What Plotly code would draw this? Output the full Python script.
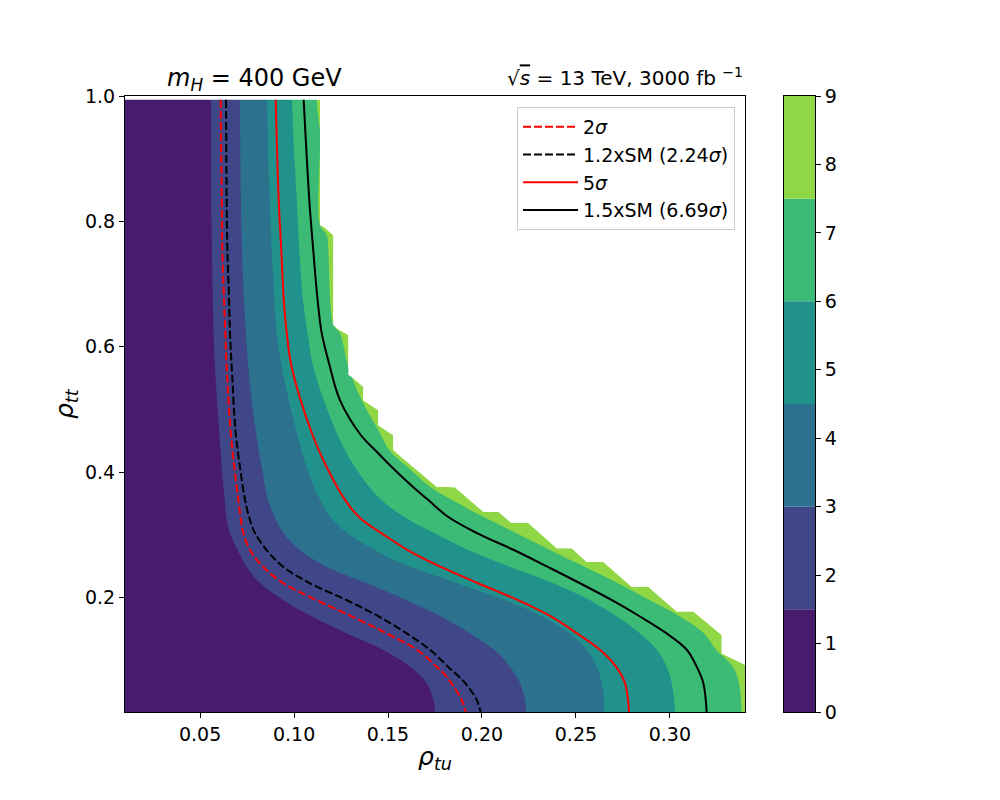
import plotly.graph_objects as go

# ---------------- data ----------------
X_RANGE = [0.01, 0.34]
Y_RANGE = [0.0177, 1.0]
Y_DATA_TOP = 0.994

X_TICKS = [0.05, 0.10, 0.15, 0.20, 0.25, 0.30]
X_TICK_LABELS = ["0.05", "0.10", "0.15", "0.20", "0.25", "0.30"]
Y_TICKS = [0.2, 0.4, 0.6, 0.8, 1.0]
Y_TICK_LABELS = ["0.2", "0.4", "0.6", "0.8", "1.0"]

LEVELS = [0, 1.5, 3, 4.5, 6, 7.5, 9]
BAND_COLORS = ["#481b6d", "#3f4788", "#2c718e", "#21918c", "#3bbb75", "#8fd744"]
CB_TICKS = [0, 1, 2, 3, 4, 5, 6, 7, 8, 9]

# outer edge of the computed region (beyond it: no data)
EDGE_X = [0.1138, 0.1138, 0.1159, 0.1209, 0.1209, 0.1235, 0.1289, 0.1289, 0.1307, 0.1368,
          0.1368, 0.1448, 0.1448, 0.1528, 0.1528, 0.1599, 0.1759, 0.1856, 0.2007, 0.2087,
          0.2158, 0.2247, 0.2398, 0.2478, 0.2557, 0.2646, 0.2797, 0.2885, 0.3036, 0.3125,
          0.3276, 0.3276, 0.3400, 0.3400]
EDGE_Y = [0.994, 0.794, 0.791, 0.778, 0.635, 0.628, 0.619, 0.555, 0.552, 0.5365,
          0.515, 0.499, 0.475, 0.459, 0.4355, 0.417, 0.377, 0.376, 0.337, 0.337,
          0.319, 0.319, 0.279, 0.279, 0.257, 0.257, 0.2175, 0.2175, 0.178, 0.178,
          0.1405, 0.111, 0.093, 0.0177]

L75_X = [0.1120, 0.1138, 0.1138, 0.1174, 0.1182, 0.1195, 0.1209, 0.1244, 0.1289, 0.1360,
         0.1457, 0.1505, 0.1601, 0.1723, 0.1840, 0.1968, 0.2128, 0.2362, 0.2548, 0.2724,
         0.2894, 0.3054, 0.3182, 0.3246, 0.3336, 0.3368, 0.3382]
L75_Y = [0.994, 0.941, 0.794, 0.778, 0.754, 0.662, 0.635, 0.622, 0.568, 0.515,
         0.463, 0.436, 0.409, 0.377, 0.356, 0.335, 0.311, 0.276, 0.249, 0.223,
         0.196, 0.170, 0.143, 0.117, 0.090, 0.064, 0.0177]

L6_X = [0.0989, 0.1014, 0.1028, 0.1047, 0.1072, 0.1102, 0.1227, 0.1324, 0.1447, 0.1585,
        0.1745, 0.1926, 0.2149, 0.2380, 0.2575, 0.2717, 0.2841, 0.2930, 0.2983, 0.3010, 0.3027]
L6_Y = [0.994, 0.834, 0.754, 0.675, 0.622, 0.568, 0.463, 0.408, 0.361, 0.329,
        0.303, 0.276, 0.249, 0.223, 0.196, 0.170, 0.143, 0.117, 0.090, 0.064, 0.0177]

L45_X = [0.0856, 0.0870, 0.0881, 0.0895, 0.0907, 0.0934, 0.1014, 0.1067, 0.1138, 0.1207,
         0.1298, 0.1431, 0.1553, 0.1686, 0.1867, 0.2123, 0.2319, 0.2469, 0.2557, 0.2611,
         0.2637, 0.2650, 0.2650]
L45_Y = [0.994, 0.834, 0.754, 0.675, 0.622, 0.568, 0.463, 0.408, 0.356, 0.324,
         0.300, 0.276, 0.257, 0.242, 0.223, 0.196, 0.170, 0.143, 0.117, 0.090,
         0.064, 0.037, 0.0177]

L3_X = [0.0712, 0.0717, 0.0723, 0.0733, 0.0744, 0.0756, 0.0797, 0.0828, 0.0861, 0.0904,
        0.0943, 0.1031, 0.1174, 0.1386, 0.1599, 0.1787, 0.1936, 0.2064, 0.2149, 0.2202,
        0.2229, 0.2234]
L3_Y = [0.994, 0.834, 0.754, 0.675, 0.622, 0.568, 0.463, 0.408, 0.356, 0.324,
        0.303, 0.276, 0.249, 0.223, 0.196, 0.169, 0.143, 0.117, 0.090, 0.064,
        0.037, 0.0177]

L15_X = [0.0558, 0.0559, 0.0563, 0.0568, 0.0579, 0.0602, 0.0615, 0.0630, 0.0642, 0.0659,
         0.0748, 0.0819, 0.0943, 0.1101, 0.1280, 0.1473, 0.1617, 0.1706, 0.1741, 0.1750]
L15_Y = [0.994, 0.834, 0.754, 0.662, 0.568, 0.463, 0.408, 0.356, 0.324, 0.303,
         0.249, 0.223, 0.196, 0.169, 0.143, 0.117, 0.090, 0.064, 0.037, 0.0177]

SIG2_X = [0.0609, 0.0615, 0.0618, 0.0627, 0.0634, 0.0641, 0.0663, 0.0682, 0.0703, 0.0717,
          0.0730, 0.0765, 0.0836, 0.0943, 0.1120, 0.1315, 0.1493, 0.1653, 0.1759, 0.1812,
          0.1892, 0.1913]
SIG2_Y = [0.994, 0.834, 0.754, 0.675, 0.622, 0.568, 0.463, 0.408, 0.356, 0.324,
          0.303, 0.276, 0.249, 0.223, 0.196, 0.169, 0.143, 0.117, 0.090, 0.074,
          0.037, 0.0177]

SM12_X = [0.0638, 0.0641, 0.0645, 0.0654, 0.0659, 0.0668, 0.0689, 0.0712, 0.0739, 0.0765,
          0.0792, 0.0854, 0.0943, 0.1085, 0.1280, 0.1457, 0.1599, 0.1723, 0.1819, 0.1910,
          0.1972, 0.1993]
SM12_Y = [0.994, 0.834, 0.754, 0.675, 0.622, 0.568, 0.463, 0.408, 0.356, 0.324,
          0.303, 0.276, 0.249, 0.223, 0.196, 0.169, 0.143, 0.117, 0.090, 0.064,
          0.037, 0.0177]

SIG5_X = [0.0902, 0.0918, 0.0932, 0.0945, 0.0961, 0.0987, 0.1094, 0.1174, 0.1271, 0.1351,
          0.1479, 0.1633, 0.1782, 0.1979, 0.2192, 0.2367, 0.2506, 0.2628, 0.2713, 0.2761, 0.2783]
SIG5_Y = [0.994, 0.834, 0.754, 0.675, 0.622, 0.568, 0.463, 0.408, 0.356, 0.327,
          0.300, 0.271, 0.249, 0.223, 0.196, 0.170, 0.143, 0.117, 0.090, 0.064, 0.0177]

SM15_X = [0.1051, 0.1081, 0.1102, 0.1125, 0.1147, 0.1191, 0.1244, 0.1356, 0.1436, 0.1521,
          0.1617, 0.1713, 0.1819, 0.1973, 0.2170, 0.2351, 0.2522, 0.2692, 0.2841, 0.2983,
          0.3090, 0.3143, 0.3178, 0.3196]
SM15_Y = [0.994, 0.834, 0.754, 0.675, 0.622, 0.568, 0.515, 0.459, 0.434, 0.408,
          0.381, 0.356, 0.329, 0.303, 0.276, 0.249, 0.223, 0.196, 0.170, 0.143,
          0.117, 0.090, 0.064, 0.0177]

LINE_NAMES = ["2<i>σ</i>", "1.2xSM (2.24<i>σ</i>)", "5<i>σ</i>", "1.5xSM (6.69<i>σ</i>)"]

# ---------------- layout helpers (pixel positions -> paper fractions) ----------------
W, H = 1000, 800
OFF = 8  # page margin of the html body


def fx(px):
    return (px - OFF) / W


def fy(py):
    return 1 - (py - OFF) / H


FONT = "DejaVu Sans"
fig = go.Figure()

# construction extents outside of the visible plot area (clipped away)
XL = X_RANGE[0] - 0.05
XR = X_RANGE[1] + 0.05
YB = Y_RANGE[0] - 0.3
YT = Y_RANGE[1] + 0.3

# band 7.5-9: everything inside the edge (staircase, straight segments)
fig.add_trace(go.Scatter(x=EDGE_X + [XL, XL], y=EDGE_Y + [YB, Y_DATA_TOP],
                         mode="lines", fill="toself", fillcolor=BAND_COLORS[5],
                         line=dict(width=0, color=BAND_COLORS[5]),
                         hoverinfo="skip", showlegend=False))

# remaining bands, painted from outermost boundary inwards (smooth boundaries)
boundaries = [(L75_X, L75_Y), (L6_X, L6_Y), (L45_X, L45_Y), (L3_X, L3_Y), (L15_X, L15_Y)]
for (bx, by), col in zip(boundaries, BAND_COLORS[4::-1]):
    xs = [bx[0]] + list(bx) + [bx[-1], bx[-1], XL, XL]
    ys = [YT] + list(by) + [Y_RANGE[0] - 0.1, YB, YB, YT]
    fig.add_trace(go.Scatter(x=xs, y=ys, mode="lines", fill="toself",
                             fillcolor=col, line=dict(width=0, color=col, shape="spline",
                                                      smoothing=1.0),
                             hoverinfo="skip", showlegend=False))

# white: outside the computed region and the thin strip above the data
mask_x = EDGE_X + [XR, XR, EDGE_X[0]]
mask_y = EDGE_Y + [YB, YT, YT]
fig.add_trace(go.Scatter(x=mask_x, y=mask_y, mode="lines", fill="toself", fillcolor="white",
                         line=dict(width=0, color="white"), hoverinfo="skip", showlegend=False))
fig.add_trace(go.Scatter(x=[XL, XR, XR, XL], y=[Y_DATA_TOP, Y_DATA_TOP, YT, YT], mode="lines",
                         fill="toself", fillcolor="white", line=dict(width=0, color="white"),
                         hoverinfo="skip", showlegend=False))

lines = [(SIG2_X, SIG2_Y, "red", "8px,3px"),
         (SM12_X, SM12_Y, "black", "8px,3px"),
         (SIG5_X, SIG5_Y, "red", "solid"),
         (SM15_X, SM15_Y, "black", "solid")]
for i, ((lx, ly, c, d), nm) in enumerate(zip(lines, LINE_NAMES)):
    fig.add_trace(go.Scatter(x=lx, y=ly, mode="lines", name=nm,
                             line=dict(color=c, width=2, dash=d, shape="spline", smoothing=1.0),
                             legendgroup=f"g{i}", showlegend=True))

# colorbar as stacked bars
fig.add_trace(go.Bar(x=[0.5] * (len(LEVELS) - 1),
                     y=[LEVELS[i + 1] - LEVELS[i] for i in range(len(LEVELS) - 1)],
                     base=LEVELS[:-1], width=1.0,
                     marker=dict(color=BAND_COLORS, line=dict(width=0)),
                     xaxis="x2", yaxis="y2", showlegend=False, hoverinfo="skip"))

axis_common = dict(showline=True, linecolor="black", linewidth=1, mirror=True,
                   ticks="outside", ticklen=5, tickwidth=1, tickcolor="black",
                   showgrid=False, zeroline=False, automargin=False,
                   tickfont=dict(family=FONT, size=19, color="black"))

fig.update_layout(
    width=W, height=H,
    margin=dict(l=0, r=0, t=0, b=0, pad=0, autoexpand=False),
    paper_bgcolor="white", plot_bgcolor="white",
    barmode="overlay",
    xaxis=dict(domain=[fx(125), fx(745)], range=X_RANGE, tickvals=X_TICKS,
               ticktext=X_TICK_LABELS, **axis_common),
    yaxis=dict(domain=[fy(712), fy(96)], range=Y_RANGE, tickvals=Y_TICKS,
               ticktext=Y_TICK_LABELS, **axis_common),
    xaxis2=dict(domain=[fx(784), fx(815)], range=[0, 1], anchor="y2",
                showline=True, linecolor="black", linewidth=1, mirror=True,
                showticklabels=False, ticks="", showgrid=False, zeroline=False,
                automargin=False),
    yaxis2=dict(domain=[fy(712), fy(96)], range=[LEVELS[0], LEVELS[-1]], anchor="x2",
                side="right", tickvals=CB_TICKS, **axis_common),
    legend=dict(x=fx(735), y=fy(107), xanchor="right", yanchor="top",
                bgcolor="rgba(255,255,255,0.8)", bordercolor="#cccccc", borderwidth=1,
                font=dict(family=FONT, size=19, color="black"),
                tracegroupgap=0, itemwidth=55),
    annotations=[
        dict(text="<i>ρ</i><sub><i>tu</i></sub>", x=fx(435), y=fy(758), xref="paper",
             yref="paper", showarrow=False, xanchor="center", yanchor="middle",
             font=dict(family=FONT, size=25, color="black")),
        dict(text="<i>ρ</i><sub><i>tt</i></sub>", x=fx(66), y=fy(404), xref="paper",
             yref="paper", showarrow=False, xanchor="center", yanchor="middle", textangle=-90,
             font=dict(family=FONT, size=25, color="black")),
        dict(text="<i>m</i><sub><i>H</i></sub> = 400 GeV", x=fx(165), y=fy(80), xref="paper",
             yref="paper", showarrow=False, xanchor="left", yanchor="middle",
             font=dict(family=FONT, size=24, color="black")),
        dict(text="√<span style='text-decoration:overline'><i>s</i></span> = 13 TeV, 3000 fb <sup>−1</sup>",
             x=fx(745), y=fy(77), xref="paper", yref="paper", showarrow=False,
             xanchor="right", yanchor="middle",
             font=dict(family=FONT, size=20, color="black")),
    ],
)

fig.write_html("out.html")
